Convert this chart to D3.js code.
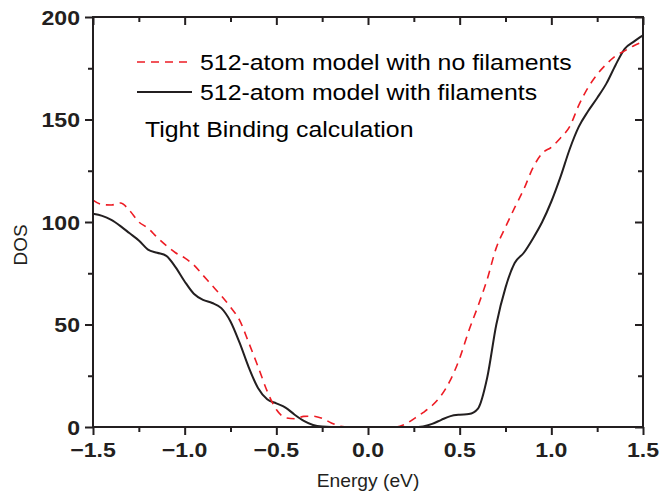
<!DOCTYPE html>
<html>
<head>
<meta charset="utf-8">
<script src="https://d3js.org/d3.v7.min.js"></script>
<style>
    body { margin: 0; background: #ffffff; }
    svg { font-family: "Liberation Sans", Arial, sans-serif; }
    .tick-label { font-size: 21px; font-weight: bold; fill: #231f20; }
    .axis-title { font-size: 17.5px; fill: #231f20; }
    .legend-text { font-size: 22px; fill: #000000; }
</style>
</head>
<body>
<script>
    const WIDTH = 663;
    const HEIGHT = 495;
    const MARGIN = {left: 93, right: 20, top: 17, bottom: 68};
    const STRETCH = 1.1; // text in the figure is a little wider than plain Arial
    const LEGEND_STRETCH = 1.13;

    // energies (eV) shared by both series
    const ENERGY = [-1.5, -1.45, -1.4, -1.35, -1.3, -1.25, -1.2, -1.15, -1.1, -1.05,
        -1.0, -0.95, -0.9, -0.85, -0.8, -0.75, -0.7, -0.65, -0.6, -0.55,
        -0.5, -0.45, -0.4, -0.35, -0.3, -0.25, -0.2, -0.15, -0.1, -0.05,
        0.0, 0.05, 0.1, 0.15, 0.2, 0.25, 0.3, 0.35, 0.4, 0.45,
        0.5, 0.55, 0.6, 0.65, 0.7, 0.75, 0.8, 0.85, 0.9, 0.95,
        1.0, 1.05, 1.1, 1.15, 1.2, 1.25, 1.3, 1.35, 1.4, 1.45, 1.5];

    const DOS_NO_FILAMENTS = [110.7, 108.5, 108.3, 109.3, 105.5, 100, 97, 92.5, 88.5, 85,
        82.5, 79, 74, 69, 64, 58.5, 52, 41, 29.5, 17.5,
        8.5, 4.5, 4, 5.2, 5.3, 4.2, 2, 0.4, 0, 0,
        0, 0, 0, 0, 1.2, 4, 7, 10.5, 15.5, 23,
        33.5, 47, 59, 72, 87.5, 97.5, 107, 116, 126.5, 133.5,
        136.5, 141, 146.5, 157, 165.5, 172, 177, 181, 183.5, 186, 188];

    const DOS_FILAMENTS = [104, 103, 101, 98, 94.5, 91, 86.5, 85, 83.5, 78,
        71, 65, 62, 60.5, 58, 51.5, 41, 29, 19, 13.5,
        11.5, 9.5, 6, 3, 1, 0.2, 0, 0, 0, 0,
        0, 0, 0, 0, 0, 0, 0.3, 1.5, 3.5, 5.3,
        6, 6.3, 9, 24, 50, 68, 80, 85, 92, 100,
        110, 122, 135.5, 146.5, 154, 160.5, 167.5, 176.5, 184.5, 188, 191];

    const X_TICKS = [-1.5, -1.0, -0.5, 0.0, 0.5, 1.0, 1.5];
    const X_MINOR = [-1.5, -1.25, -1.0, -0.75, -0.5, -0.25, 0, 0.25, 0.5, 0.75, 1.0, 1.25, 1.5];
    const Y_TICKS = [0, 50, 100, 150, 200];
    const Y_MINOR = [0, 25, 50, 75, 100, 125, 150, 175, 200];

    const LEGEND_LABELS = ["512-atom model with no filaments", "512-atom model with filaments"];
    const NOTE_TXT = "Tight Binding calculation";

    function place(px, py, sx) {
        return "translate(" + px + "," + py + ") scale(" + (sx || STRETCH) + ",1)";
    }

    var svg = d3.select("body").append("svg")
        .attr("width", WIDTH)
        .attr("height", HEIGHT);

    var x = d3.scaleLinear()
        .domain([-1.5, 1.5])
        .range([MARGIN.left, WIDTH - MARGIN.right]);
    var y = d3.scaleLinear()
        .domain([0, 200])
        .range([HEIGHT - MARGIN.bottom, MARGIN.top]);

    var x0 = MARGIN.left, x1 = WIDTH - MARGIN.right;
    var y0 = HEIGHT - MARGIN.bottom, y1 = MARGIN.top;

    // curves
    var line = d3.line().curve(d3.curveMonotoneX);
    var redPts = ENERGY.map(function(e, i) { return [x(e), y(DOS_NO_FILAMENTS[i])]; });
    var blackPts = ENERGY.map(function(e, i) { return [x(e), y(DOS_FILAMENTS[i])]; });

    svg.append("path")
        .attr("d", line(blackPts))
        .attr("fill", "none")
        .attr("stroke", "#231f20")
        .attr("stroke-width", 2);
    svg.append("path")
        .attr("d", line(redPts))
        .attr("fill", "none")
        .attr("stroke", "#ed1c24")
        .attr("stroke-width", 1.6)
        .attr("stroke-dasharray", "8,6");

    function isMajorX(d) {
        return X_TICKS.some(function(t) { return Math.abs(t - d) < 1e-6; });
    }
    function isMajorY(d) {
        return Y_TICKS.indexOf(d) >= 0;
    }

    // axes: bottom and left ticks outward, top and right ticks inward
    var axisColor = "#231f20";
    var gBottom = svg.append("g").attr("transform", "translate(0," + y0 + ")")
        .call(d3.axisBottom(x).tickValues(X_MINOR).tickSize(6).tickFormat(""));
    var gTop = svg.append("g").attr("transform", "translate(0," + y1 + ")")
        .call(d3.axisBottom(x).tickValues(X_MINOR).tickSize(6).tickFormat(""));
    var gLeft = svg.append("g").attr("transform", "translate(" + x0 + ",0)")
        .call(d3.axisLeft(y).tickValues(Y_MINOR).tickSize(6).tickFormat(""));
    var gRight = svg.append("g").attr("transform", "translate(" + x1 + ",0)")
        .call(d3.axisLeft(y).tickValues(Y_MINOR).tickSize(6).tickFormat(""));
    [gBottom, gTop, gLeft, gRight].forEach(function(g) {
        g.select(".domain").remove();
        g.selectAll(".tick line").attr("stroke", axisColor).attr("stroke-width", 2);
    });
    gBottom.selectAll(".tick line").attr("y2", function(d) { return isMajorX(d) ? 8 : 5; });
    gTop.selectAll(".tick line").attr("y2", function(d) { return isMajorX(d) ? 8 : 5; });
    gLeft.selectAll(".tick line").attr("x2", function(d) { return isMajorY(d) ? -8 : -5; });
    gRight.selectAll(".tick line").attr("x2", function(d) { return isMajorY(d) ? -8 : -5; });

    svg.append("rect")
        .attr("x", x0).attr("y", y1)
        .attr("width", x1 - x0).attr("height", y0 - y1)
        .attr("fill", "none")
        .attr("stroke", axisColor)
        .attr("stroke-width", 2);

    svg.selectAll(".xlabel")
        .data(X_TICKS)
        .enter()
        .append("text")
        .attr("class", "tick-label")
        .attr("transform", function(d) { return place(x(d), y0 + 30); })
        .attr("text-anchor", "middle")
        .text(function(d) { return d3.format(".1f")(d); });

    svg.selectAll(".ylabel")
        .data(Y_TICKS)
        .enter()
        .append("text")
        .attr("class", "tick-label")
        .attr("transform", function(d) { return place(x0 - 13, y(d) + 7.5); })
        .attr("text-anchor", "end")
        .text(function(d) { return d; });

    svg.append("text")
        .attr("class", "axis-title")
        .attr("transform", place((x0 + x1) / 2, 487))
        .attr("text-anchor", "middle")
        .text("Energy (eV)");

    svg.append("text")
        .attr("class", "axis-title")
        .style("font-size", "19px")
        .attr("transform", "translate(27,245) rotate(-90)")
        .attr("text-anchor", "middle")
        .text("DOS");

    // legend
    svg.append("line")
        .attr("x1", 137).attr("x2", 188)
        .attr("y1", 62).attr("y2", 62)
        .attr("stroke", "#ed1c24")
        .attr("stroke-width", 1.6)
        .attr("stroke-dasharray", "8,6");
    svg.append("line")
        .attr("x1", 137).attr("x2", 192)
        .attr("y1", 92).attr("y2", 92)
        .attr("stroke", "#231f20")
        .attr("stroke-width", 2);
    svg.selectAll(".legend")
        .data(LEGEND_LABELS)
        .enter()
        .append("text")
        .attr("class", "legend-text")
        .attr("transform", function(d, i) { return place(200, 70 + i * 30, LEGEND_STRETCH); })
        .text(function(d) { return d; });
    svg.append("text")
        .attr("class", "legend-text")
        .attr("transform", place(145, 137, LEGEND_STRETCH))
        .text(NOTE_TXT);
</script>
</body>
</html>
